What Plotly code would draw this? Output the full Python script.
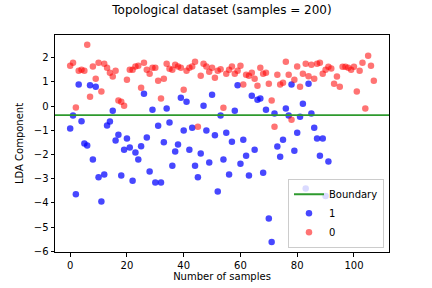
import plotly.graph_objects as go

TITLE = "Topological dataset (samples = 200)"
X_LABEL = "Number of samples"
Y_LABEL = "LDA Component"
BOUNDARY = -0.37

class1_y = [-0.93, -0.39, -3.64, 0.89, -0.63, -1.55, -1.63, 0.86, -2.21, 0.80,
            -2.94, -3.94, -2.83, -0.80, -0.64, -0.19, -1.42, -1.18, -2.87, -1.80,
            -1.34, -1.71, -3.08, -1.92, -2.21, -1.66, 0.51, -1.30, -2.70, -0.15,
            -3.16, -0.81, -3.16, -1.49, -0.10, -0.68, -2.46, -1.88, -1.59, 0.35,
            -1.01, 0.18, -1.80, -0.89, -2.46, -2.94, -1.96, 0.02, -1.01, -2.33,
            0.47, -1.20, -3.53, -0.39, -2.21, -1.10, -2.83, -1.47, -0.19, 0.86,
            -2.38, -1.39, -2.05, -2.87, 0.43, -1.80, 0.26, 0.31, -2.75, -0.15,
            -4.65, -5.62, -0.31, -1.67, -2.09, -1.39, -0.10, -0.39, 0.89, -1.84,
            -1.10, -0.44, 0.10, -3.41, 0.93, -0.31, -0.89, -1.34, -2.05, -1.34,
            -3.71, -2.29]

class0_y = [1.67, 1.79, -0.06, 1.46, 1.50, 1.46, 2.54, 0.39, 1.64, 1.13,
            1.79, 0.60, 1.75, 1.59, 1.38, 1.22, 1.46, 0.23, 0.18, 0.02,
            1.09, 1.50, 1.50, 1.64, 1.67, 0.76, 1.79, 1.50, 1.34, 1.59,
            1.59, 1.05, 0.31, 1.13, 1.75, 1.55, 1.50, 1.71, 1.64, 1.59,
            0.68, 1.46, 1.59, 1.64, 1.83, -0.85, 1.26, 1.75, 1.64, 1.42,
            1.59, 1.17, 1.46, 1.52, -0.07, 1.34, 1.50, 1.64, 1.34, 1.46,
            1.67, 0.89, 1.30, 1.26, 1.38, 1.13, 0.84, 1.59, 1.34, 1.38,
            0.93, 0.23, -0.85, 1.30, 0.89, 0.97, 1.83, 1.30, -0.56, 1.09,
            1.64, 0.80, 1.34, 1.75, 1.24, 1.71, 1.13, 1.75, 1.79, 1.34,
            1.50, 1.63, 1.56, 0.93, 1.22, 0.80, 1.63, 1.63, 1.59, 1.50,
            1.63, 0.60, 1.46, 1.79, -0.10, 2.08, 1.67, 1.05]

class1_x = list(range(len(class1_y)))
class0_x = list(range(len(class0_y)))

x_ticks = [0, 20, 40, 60, 80, 100]
y_ticks = [-6, -5, -4, -3, -2, -1, 0, 1, 2]

FONT = "DejaVu Sans"
GREEN = "#2e9a2e"

fig = go.Figure()
fig.add_trace(go.Scatter(x=[None], y=[None], mode="lines", name="Boundary",
                         line=dict(color=GREEN, width=2)))
fig.add_trace(go.Scatter(x=class1_x, y=class1_y, mode="markers", name="1",
                         marker=dict(color="blue", size=6.5, opacity=0.72, line=dict(width=0))))
fig.add_trace(go.Scatter(x=class0_x, y=class0_y, mode="markers", name="0",
                         marker=dict(color="red", size=6.5, opacity=0.55, line=dict(width=0))))

fig.add_shape(type="line", xref="x domain", x0=0, x1=1, yref="y", y0=BOUNDARY, y1=BOUNDARY,
              line=dict(color=GREEN, width=1.8), layer="above")

axis_common = dict(showgrid=False, zeroline=False, showline=True, linecolor="black",
                   linewidth=1, mirror=True, ticks="outside", ticklen=3.5, tickwidth=1,
                   tickcolor="black", automargin=False,
                   tickfont=dict(size=10, color="black", family=FONT))

fig.update_layout(
    width=432, height=288,
    margin=dict(l=55, r=43, t=35, b=36),
    paper_bgcolor="white", plot_bgcolor="white",
    font=dict(family=FONT, size=10, color="black"),
    title=dict(text=TITLE, x=0.5, xref="paper", xanchor="center",
               y=1 - 10 / 288, yref="container", yanchor="middle",
               font=dict(size=12, family=FONT, color="black")),
    xaxis=dict(range=[-5.35, 112.35], tickvals=x_ticks,
               title=dict(text=X_LABEL, standoff=3, font=dict(size=10)), **axis_common),
    yaxis=dict(range=[-6.03, 2.94], tickvals=y_ticks,
               tickformat="d",
               title=dict(text=Y_LABEL, standoff=8, font=dict(size=10)), **axis_common),
    legend=dict(x=0.985, y=0.02, xanchor="right", yanchor="bottom",
                bordercolor="#cccccc", borderwidth=1, bgcolor="rgba(255,255,255,0.8)",
                font=dict(size=10, family=FONT), tracegroupgap=0, itemwidth=30),
    showlegend=True,
)

fig.write_html("out.html",
               config={"displayModeBar": False},
               post_script="document.body.style.margin='0';document.body.style.overflow='hidden';")
